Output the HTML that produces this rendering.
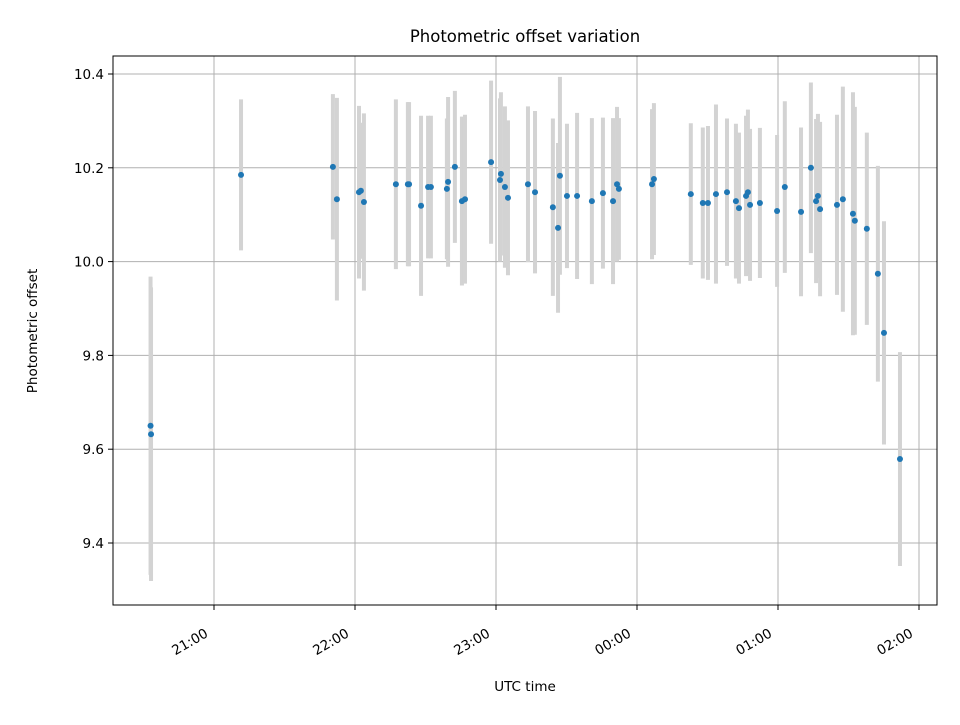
<!DOCTYPE html>
<html><head><meta charset="utf-8"><style>
body{margin:0;background:#fff}
svg text{font-family:"DejaVu Sans","Liberation Sans",sans-serif;fill:#000}
</style></head><body>
<svg id="chart" width="960" height="720" viewBox="0 0 960 720" xmlns="http://www.w3.org/2000/svg">
<rect width="960" height="720" fill="#fff"/>
<text x="525" y="42" font-size="16.5" text-anchor="middle">Photometric offset variation</text>
<text x="525" y="691" font-size="13.5" text-anchor="middle">UTC time</text>
<text transform="translate(37,331) rotate(-90)" font-size="13.5" text-anchor="middle">Photometric offset</text>
<g id="grid"></g>
<g id="errs"></g>
<g id="pts"></g>
<rect x="113" y="56" width="824" height="549" fill="none" stroke="#000" stroke-width="1"/>
<g id="ticks"></g>
</svg>
<script>
// time in minutes since 20:00 UTC
const times=[33,33.2,71.5,110.6,112.3,121.7,122.5,123.8,137.4,142.5,143,148.1,151.1,152.3,159.1,159.6,162.5,165.5,166.8,177.9,181.7,182.1,183.8,185.1,193.6,196.6,204.2,206.4,207.2,210.2,214.5,220.8,225.5,229.8,231.5,232.3,246.4,247.2,262.9,268,270.2,273.6,278.3,282.1,283.4,286.4,287.2,288.1,292.3,299.6,302.9,309.8,314,316.2,317,317.9,325.1,327.6,331.9,332.7,337.8,342.5,345.1,351.9];
const offsets=[9.650,9.632,10.185,10.202,10.133,10.148,10.151,10.127,10.165,10.165,10.165,10.119,10.159,10.159,10.155,10.170,10.202,10.129,10.133,10.212,10.174,10.187,10.159,10.136,10.165,10.148,10.116,10.072,10.183,10.140,10.140,10.129,10.146,10.129,10.165,10.155,10.165,10.176,10.144,10.125,10.125,10.144,10.148,10.129,10.114,10.140,10.148,10.121,10.125,10.108,10.159,10.106,10.200,10.129,10.140,10.112,10.121,10.133,10.102,10.087,10.070,9.974,9.848,9.579];
const errors=[0.318,0.313,0.161,0.155,0.216,0.184,0.145,0.189,0.181,0.175,0.175,0.192,0.152,0.152,0.150,0.181,0.162,0.180,0.180,0.174,0.174,0.174,0.172,0.165,0.166,0.173,0.189,0.181,0.211,0.154,0.177,0.177,0.161,0.177,0.165,0.151,0.160,0.162,0.151,0.161,0.164,0.191,0.157,0.165,0.161,0.171,0.176,0.162,0.160,0.162,0.183,0.180,0.182,0.175,0.175,0.186,0.192,0.240,0.259,0.243,0.205,0.230,0.238,0.228];
const xTickLabels=["21:00","22:00","23:00","00:00","01:00","02:00"];
const xTickMinutes=[60,120,180,240,300,360];
const yTickValues=[9.4,9.6,9.8,10.0,10.2,10.4];

const NS="http://www.w3.org/2000/svg";
function xs(m){return 214+(m-60)*141/60;}
function ys(v){return 74+(10.4-v)*469;}
function mk(tag,attrs,parent){const e=document.createElementNS(NS,tag);for(const k in attrs)e.setAttribute(k,attrs[k]);parent.appendChild(e);return e;}
const grid=document.getElementById('grid'),ticks=document.getElementById('ticks'),errs=document.getElementById('errs'),pts=document.getElementById('pts');
xTickMinutes.forEach((m,i)=>{
  const x=xs(m);
  const g=mk('line',{x1:x,x2:x,y1:56,y2:605,stroke:'#b0b0b0','stroke-width':1},grid);
  
  
  const t=mk('line',{x1:x,x2:x,y1:605,y2:610,stroke:'#000'},ticks);
  
  
  const l=mk('text',{transform:`translate(${x-5},${636}) rotate(-30)`,'font-size':13.5,'text-anchor':'end'},ticks);
  l.textContent=xTickLabels[i];
  
  
});
yTickValues.forEach(v=>{
  const y=ys(v);
  const g=mk('line',{x1:113,x2:937,y1:y,y2:y,stroke:'#b0b0b0','stroke-width':1},grid);
  
  
  const t=mk('line',{x1:108,x2:113,y1:y,y2:y,stroke:'#000'},ticks);
  
  
  const l=mk('text',{x:104,y:y+5,'font-size':13.5,'text-anchor':'end'},ticks);
  l.textContent=v.toFixed(1);
  
  
});
times.forEach((m,i)=>{
  const x=xs(m),v=offsets[i],e=errors[i];
  const b=mk('line',{x1:x,x2:x,y1:ys(v+e),y2:ys(v-e),stroke:'#d3d3d3','stroke-width':4},errs);
  
  
  const c=mk('circle',{cx:x,cy:ys(v),r:3,fill:'#1f77b4'},pts);
  
  
});
</script>
</body></html>
